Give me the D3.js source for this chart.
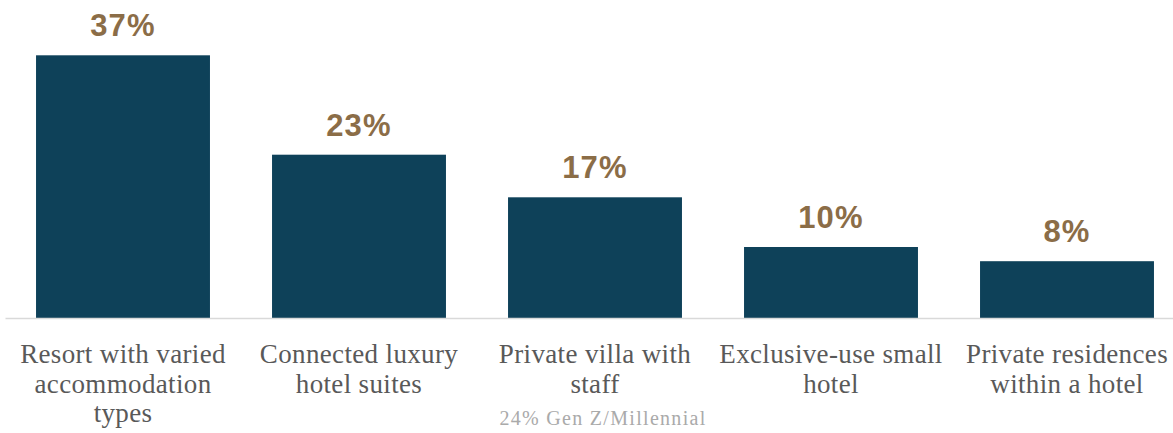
<!DOCTYPE html>
<html>
<head>
<meta charset="utf-8">
<script src="https://cdn.jsdelivr.net/npm/d3@7"></script>
<style>
  html, body { margin: 0; padding: 0; background: #ffffff; }
  svg { display: block; }
</style>
</head>
<body>
<svg id="chart" width="1173" height="433"></svg>
<script>
// Preferred accommodation types (share of respondents, %)
const categories = [
  "Resort with varied accommodation types",
  "Connected luxury hotel suites",
  "Private villa with staff",
  "Exclusive-use small hotel",
  "Private residences within a hotel"
];
const categoryLines = [
  ["Resort with varied", "accommodation", "types"],
  ["Connected luxury", "hotel suites"],
  ["Private villa with", "staff"],
  ["Exclusive-use small", "hotel"],
  ["Private residences", "within a hotel"]
];
const values = [37, 23, 17, 10, 8];
const notes = ["", "", "24% Gen Z/Millennial", "", ""];

const width = 1173, height = 433;
const svg = d3.select("#chart");

const x = d3.scaleBand()
  .domain(categories)
  .range([5, 1185])
  .paddingInner(0.263)
  .paddingOuter(0.1315);

const y = d3.scaleLinear()
  .domain([0, 40])
  .range([318, 34]);

// Bars
svg.append("g")
  .selectAll("rect")
  .data(categories)
  .join("rect")
  .attr("x", d => x(d))
  .attr("y", (d, i) => y(values[i]))
  .attr("width", x.bandwidth())
  .attr("height", (d, i) => y(0) - y(values[i]))
  .attr("fill", "#0e4159");

// Value labels above bars
svg.append("g")
  .selectAll("text")
  .data(categories)
  .join("text")
  .attr("x", d => x(d) + x.bandwidth() / 2)
  .attr("y", (d, i) => y(values[i]) - 19)
  .attr("text-anchor", "middle")
  .attr("font-family", "'Liberation Sans', Arial, sans-serif")
  .attr("font-weight", "bold")
  .attr("font-size", 31)
  .attr("letter-spacing", 1.2)
  .attr("fill", "#8b6d47")
  .text((d, i) => values[i] + "%");

// Category axis with wrapped labels
const axis = svg.append("g")
  .attr("transform", `translate(0,${y(0)})`)
  .call(d3.axisBottom(x).tickSize(0).tickSizeOuter(0).tickPadding(0).tickFormat(() => ""));

axis.select(".domain")
  .attr("stroke", "#d9d9d9")
  .attr("stroke-width", 1.5);

axis.selectAll(".tick text").remove();

axis.selectAll(".tick").each(function(d) {
  const i = categories.indexOf(d);
  const t = d3.select(this).append("text")
    .attr("text-anchor", "middle")
    .attr("font-family", "'Liberation Serif', 'Times New Roman', serif")
    .attr("font-size", 27)
    .attr("letter-spacing", 0.35)
    .attr("fill", "#595959");
  categoryLines[i].forEach((line, k) => {
    t.append("tspan")
      .attr("x", 0)
      .attr("y", 45 + k * 29.5)
      .text(line);
  });
  if (notes[i]) {
    // footnote sits slightly right of the label centre
    d3.select(this).append("text")
      .attr("text-anchor", "middle")
      .attr("x", 8)
      .attr("y", 45 + categoryLines[i].length * 29.5 + 2.5)
      .attr("font-family", "'Liberation Serif', 'Times New Roman', serif")
      .attr("font-size", 20)
      .attr("letter-spacing", 1.3)
      .attr("fill", "#aaaaaa")
      .text(notes[i]);
  }
});
</script>
</body>
</html>
